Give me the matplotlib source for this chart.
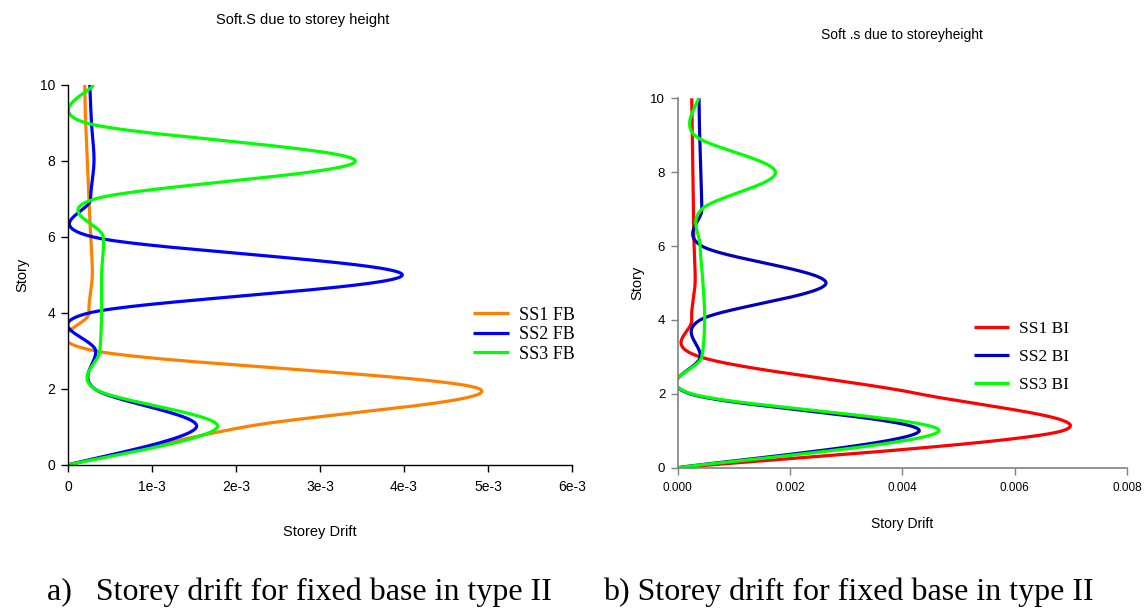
import numpy as np
import matplotlib
matplotlib.use("Agg")
import matplotlib.pyplot as plt

# storey levels (0 = base, 10 = roof)
stories = [0, 1, 2, 3, 4, 5, 6, 7, 8, 9, 10]

# fixed base drifts (x 1e-3)
ss1_fb = [0, 2.10, 4.90, 0.33, 0.25, 0.29, 0.27, 0.25, 0.23, 0.21, 0.20]
ss2_fb = [0, 1.53, 0.32, 0.33, 0.25, 3.98, 0.30, 0.27, 0.31, 0.28, 0.26]
ss3_fb = [0, 1.78, 0.32, 0.38, 0.40, 0.40, 0.42, 0.32, 3.42, 0.22, 0.30]

# brick infill drifts (x 1e-3)
ss1_bi = [0, 6.85, 4.30, 0.40, 0.25, 0.31, 0.29, 0.28, 0.27, 0.26, 0.25]
ss2_bi = [0, 4.30, 0.22, 0.40, 0.40, 2.64, 0.43, 0.43, 0.41, 0.39, 0.38]
ss3_bi = [0, 4.65, 0.25, 0.43, 0.48, 0.45, 0.40, 0.43, 1.74, 0.30, 0.37]

left_ticks = ["0", "1e-3", "2e-3", "3e-3", "4e-3", "5e-3", "6e-3"]
right_ticks = ["0.000", "0.002", "0.004", "0.006", "0.008"]


def smooth(x, y, n=60):
    # excel-like smoothed scatter line (catmull-rom bezier)
    pts = np.column_stack([np.asarray(x, float), np.asarray(y, float)])
    P = np.vstack([pts[0], pts, pts[-1]])
    t = np.linspace(0, 1, n)[:, None]
    out = []
    for i in range(1, len(P) - 2):
        p0, p1, p2, p3 = P[i - 1], P[i], P[i + 1], P[i + 2]
        c1 = p1 + (p2 - p0) / 6
        c2 = p2 - (p3 - p1) / 6
        seg = (1 - t) ** 3 * p1 + 3 * (1 - t) ** 2 * t * c1 + 3 * (1 - t) * t ** 2 * c2 + t ** 3 * p2
        out.append(seg)
    out = np.vstack(out)
    return out[:, 0], out[:, 1]


plt.rcParams['font.family'] = ['Liberation Sans', 'DejaVu Sans']
fig = plt.figure(figsize=(11.44, 6.11), dpi=100)

# ---- a) fixed base
ax1 = fig.add_axes([0.0594, 0.2390, 0.4406, 0.6219])
for vals, col, lab in [(ss1_fb, '#FF8000', 'SS1 FB'),
                       (ss2_fb, '#0000FF', 'SS2 FB'),
                       (ss3_fb, '#00FF00', 'SS3 FB')]:
    xs, ys = smooth(np.array(vals) * 1e-3, stories)
    ax1.plot(xs, ys, color=col, lw=2.3, label=lab, solid_capstyle='butt')
ax1.set_xlim(0, 6e-3)
ax1.set_ylim(0, 10)
ax1.set_xticks(np.arange(7) * 1e-3)
ax1.set_xticklabels(left_ticks)
ax1.set_yticks([0, 2, 4, 6, 8, 10])
for s in ['top', 'right']:
    ax1.spines[s].set_visible(False)
for s in ['left', 'bottom']:
    ax1.spines[s].set_color('black')
    ax1.spines[s].set_linewidth(1.0)
ax1.tick_params(direction='out', length=5, width=1, labelsize=10, pad=6)
ax1.tick_params(axis='y', pad=4)
ax1.set_xlabel('Storey Drift', fontsize=10.5, labelpad=22)
ax1.set_ylabel('Story', fontsize=10.5, labelpad=8)
fig.text(0.265, 0.968, 'Soft.S due to storey height', ha='center', va='center', fontsize=10.5)
leg1 = ax1.legend(loc='upper left', bbox_to_anchor=(0.786, 0.44), frameon=False,
                  prop={'family': 'Liberation Serif', 'size': 13}, handlelength=2.0,
                  handletextpad=0.55, labelspacing=0.13, borderpad=0)

# ---- b) brick infill
ax2 = fig.add_axes([0.5924, 0.2345, 0.3928, 0.6046])
for vals, col, lab in [(ss1_bi, '#FF0000', 'SS1 BI'),
                       (ss2_bi, '#0000C0', 'SS2 BI'),
                       (ss3_bi, '#00FF00', 'SS3 BI')]:
    xs, ys = smooth(np.array(vals) * 1e-3, stories)
    ax2.plot(xs, ys, color=col, lw=2.3, label=lab, solid_capstyle='butt')
ax2.set_xlim(0, 8e-3)
ax2.set_ylim(0, 10)
ax2.set_xticks(np.arange(5) * 2e-3)
ax2.set_xticklabels(right_ticks)
ax2.set_yticks([0, 2, 4, 6, 8, 10])
for s in ['top', 'right']:
    ax2.spines[s].set_visible(False)
for s in ['left', 'bottom']:
    ax2.spines[s].set_color('#808080')
    ax2.spines[s].set_linewidth(1.2)
ax2.tick_params(direction='out', length=5, width=1, color='#808080', labelsize=8.5, pad=5)
ax2.tick_params(axis='y', labelsize=9.5, pad=4)
ax2.set_xlabel('Story Drift', fontsize=10, labelpad=17)
ax2.set_ylabel('Story', fontsize=10.5, labelpad=4)
fig.text(0.788, 0.943, 'Soft .s due to storeyheight', ha='center', va='center', fontsize=10)
leg2 = ax2.legend(loc='upper left', bbox_to_anchor=(0.64, 0.42), frameon=False,
                  prop={'family': 'Liberation Serif', 'size': 12.5}, handlelength=2.0,
                  handletextpad=0.6, labelspacing=0.68, borderpad=0)

# captions
fig.text(0.041, 0.018, 'a)   Storey drift for fixed base in type II', fontsize=23,
         family='Liberation Serif', ha='left', va='baseline')
fig.text(0.527, 0.018, 'b) Storey drift for fixed base in type II', fontsize=23,
         family='Liberation Serif', ha='left', va='baseline')

fig.savefig('out.png', dpi=100)
